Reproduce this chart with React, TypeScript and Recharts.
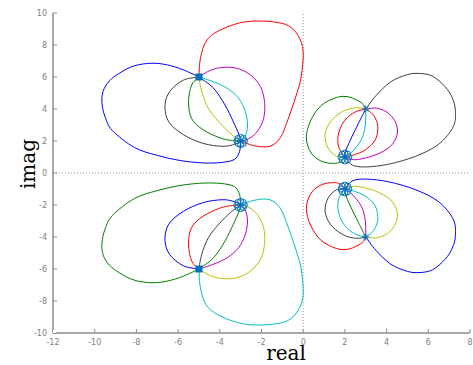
import React from 'react';
import { ComposedChart, Line, XAxis, YAxis, ReferenceLine } from 'recharts';

type P = [number, number];

const xTicks = [-12, -10, -8, -6, -4, -2, 0, 2, 4, 6, 8];
const yTicks = [-10, -8, -6, -4, -2, 0, 2, 4, 6, 8, 10];

// ---- upper-left cluster (A = -5+6i, B = -3+2i)
const ulBlueOuter: P[] = [[-5, 6], [-5.75, 6.45], [-6.5, 6.75], [-7.25, 6.86], [-8.1, 6.7], [-8.8, 6.25], [-9.3, 5.75], [-9.6, 5.1], [-9.65, 4.35], [-9.5, 3.5], [-9.15, 2.65], [-8.1, 1.6], [-7.0, 1.1], [-5.9, 0.78], [-4.8, 0.63], [-3.9, 0.66], [-3.3, 0.85], [-3.05, 1.35], [-3, 2]];
const ulBlack: P[] = [[-5, 6], [-5.75, 5.8], [-6.4, 5.1], [-6.63, 4.2], [-6.45, 3.2], [-5.75, 2.4], [-4.8, 1.85], [-3.85, 1.67], [-3.28, 1.8], [-3, 2]];
const ulGreen: P[] = [[-5, 6], [-5.35, 5.5], [-5.5, 4.45], [-5.35, 3.4], [-4.8, 2.7], [-4.0, 2.2], [-3.4, 2.03], [-3, 2]];
const ulYellow: P[] = [[-5, 6], [-4.87, 5.1], [-4.55, 4.05], [-4.05, 3.2], [-3.5, 2.48], [-3, 2]];
const ulBlueInner: P[] = [[-5, 6], [-4.3, 5.3], [-3.75, 4.25], [-3.35, 3.2], [-3.08, 2.4], [-3, 2]];
const ulCyan: P[] = [[-5, 6], [-4.3, 5.7], [-3.65, 5.3], [-3.1, 4.68], [-2.78, 3.85], [-2.67, 3.0], [-2.78, 2.3], [-3, 2]];
const ulMagenta: P[] = [[-5, 6], [-4.45, 6.42], [-3.85, 6.6], [-3.2, 6.55], [-2.55, 6.15], [-2.05, 5.4], [-1.85, 4.4], [-1.9, 3.4], [-2.2, 2.6], [-2.6, 2.15], [-3, 2]];
const ulRed: P[] = [[-5, 6], [-4.95, 7.0], [-4.75, 8.0], [-4.4, 8.6], [-3.7, 9.1], [-2.9, 9.42], [-2.1, 9.5], [-1.3, 9.42], [-0.7, 9.2], [-0.25, 8.6], [0.0, 7.6], [-0.1, 6.0], [-0.3, 5.0], [-0.55, 4.0], [-0.8, 3.1], [-1.05, 2.3], [-1.4, 1.8], [-1.8, 1.63], [-2.4, 1.72], [-3, 2]];

// ---- lower-left cluster (A = -5-6i, B = -3-2i)
const llGreenOuter: P[] = [[-5, -6], [-5.75, -6.45], [-6.5, -6.75], [-7.25, -6.86], [-8.1, -6.7], [-8.8, -6.25], [-9.3, -5.75], [-9.6, -5.1], [-9.65, -4.35], [-9.5, -3.5], [-9.15, -2.65], [-8.1, -1.6], [-7.0, -1.1], [-5.9, -0.78], [-4.8, -0.63], [-3.9, -0.66], [-3.3, -0.85], [-3.05, -1.35], [-3, -2]];
const llBlue: P[] = [[-5, -6], [-5.75, -5.8], [-6.4, -5.1], [-6.63, -4.2], [-6.45, -3.2], [-5.75, -2.4], [-4.8, -1.85], [-3.85, -1.67], [-3.28, -1.8], [-3, -2]];
const llRed: P[] = [[-5, -6], [-5.35, -5.5], [-5.5, -4.45], [-5.35, -3.4], [-4.8, -2.7], [-4.0, -2.2], [-3.4, -2.03], [-3, -2]];
const llBlack: P[] = [[-5, -6], [-4.87, -5.1], [-4.55, -4.05], [-4.05, -3.2], [-3.5, -2.48], [-3, -2]];
const llGreenInner: P[] = [[-5, -6], [-4.3, -5.3], [-3.75, -4.25], [-3.35, -3.2], [-3.08, -2.4], [-3, -2]];
const llMagenta: P[] = [[-5, -6], [-4.3, -5.7], [-3.65, -5.3], [-3.1, -4.68], [-2.78, -3.85], [-2.67, -3.0], [-2.78, -2.3], [-3, -2]];
const llYellow: P[] = [[-5, -6], [-4.45, -6.42], [-3.85, -6.6], [-3.2, -6.55], [-2.55, -6.15], [-2.05, -5.4], [-1.85, -4.4], [-1.9, -3.4], [-2.2, -2.6], [-2.6, -2.15], [-3, -2]];
const llCyan: P[] = [[-5, -6], [-4.95, -7.0], [-4.75, -8.0], [-4.4, -8.6], [-3.7, -9.1], [-2.9, -9.42], [-2.1, -9.5], [-1.3, -9.42], [-0.7, -9.2], [-0.25, -8.6], [0.0, -7.6], [-0.1, -6.0], [-0.3, -5.0], [-0.55, -4.0], [-0.8, -3.1], [-1.05, -2.3], [-1.4, -1.8], [-1.8, -1.63], [-2.4, -1.72], [-3, -2]];

// ---- upper-right cluster (A = 3+4i, B = 2+1i)
const urGreen: P[] = [[3, 4], [2.8, 4.38], [2.2, 4.75], [1.6, 4.72], [0.85, 4.2], [0.35, 3.25], [0.15, 2.2], [0.38, 1.25], [0.9, 0.72], [1.5, 0.6], [1.8, 0.72], [2, 1]];
const urYellow: P[] = [[3, 4], [2.5, 4.08], [1.87, 3.83], [1.3, 3.2], [1.05, 2.38], [1.2, 1.55], [1.6, 1.05], [2, 1]];
const urRedLeft: P[] = [[3, 4], [2.5, 3.82], [2.0, 3.3], [1.7, 2.5], [1.68, 1.75], [1.85, 1.25], [2, 1]];
const urBlue: P[] = [[3, 4], [2.65, 3.1], [2.26, 2.06], [2.03, 1.35], [2, 1]];
const urCyan: P[] = [[3, 4], [2.98, 3.0], [2.82, 2.17], [2.5, 1.55], [2.18, 1.13], [2, 1]];
const urRedRight: P[] = [[3, 4], [3.37, 3.62], [3.58, 2.9], [3.45, 2.05], [2.97, 1.44], [2.42, 1.13], [2, 1]];
const urMagenta: P[] = [[3, 4], [3.55, 4.05], [4.1, 3.72], [4.45, 3.1], [4.5, 2.38], [4.17, 1.65], [3.45, 1.12], [2.65, 0.85], [2.25, 0.87], [2, 1]];
const urBlack: P[] = [[3, 4], [3.5, 4.85], [4.2, 5.7], [5.0, 6.15], [5.6, 6.22], [6.2, 6.05], [6.8, 5.4], [7.15, 4.7], [7.3, 3.9], [7.2, 2.9], [6.5, 1.8], [5.4, 1.05], [4.1, 0.55], [3.0, 0.38], [2.35, 0.5], [2, 1]];

// ---- lower-right cluster (A = 3-4i, B = 2-1i)
const lrRed: P[] = [[3, -4], [2.8, -4.38], [2.2, -4.75], [1.6, -4.72], [0.85, -4.2], [0.35, -3.25], [0.15, -2.2], [0.38, -1.25], [0.9, -0.72], [1.5, -0.6], [1.8, -0.72], [2, -1]];
const lrBlack: P[] = [[3, -4], [2.5, -4.08], [1.87, -3.83], [1.3, -3.2], [1.05, -2.38], [1.2, -1.55], [1.6, -1.05], [2, -1]];
const lrCyanLeft: P[] = [[3, -4], [2.5, -3.82], [2.0, -3.3], [1.7, -2.5], [1.68, -1.75], [1.85, -1.25], [2, -1]];
const lrGreen: P[] = [[3, -4], [2.65, -3.1], [2.26, -2.06], [2.03, -1.35], [2, -1]];
const lrMagenta: P[] = [[3, -4], [2.98, -3.0], [2.82, -2.17], [2.5, -1.55], [2.18, -1.13], [2, -1]];
const lrCyanRight: P[] = [[3, -4], [3.37, -3.62], [3.58, -2.9], [3.45, -2.05], [2.97, -1.44], [2.42, -1.13], [2, -1]];
const lrYellow: P[] = [[3, -4], [3.55, -4.05], [4.1, -3.72], [4.45, -3.1], [4.5, -2.38], [4.17, -1.65], [3.45, -1.12], [2.65, -0.85], [2.25, -0.87], [2, -1]];
const lrBlue: P[] = [[3, -4], [3.5, -4.85], [4.2, -5.7], [5.0, -6.15], [5.6, -6.22], [6.2, -6.05], [6.8, -5.4], [7.15, -4.7], [7.3, -3.9], [7.2, -2.9], [6.5, -1.8], [5.4, -1.05], [4.1, -0.55], [3.0, -0.38], [2.35, -0.5], [2, -1]];

// ---- markers
const ulCircles: P[] = [[-2.82, 2], [-2.87, 2.16], [-3, 2.23], [-3.13, 2.16], [-3.18, 2], [-3.13, 1.84], [-3, 1.77], [-2.87, 1.84]];
const llCircles: P[] = [[-2.82, -2], [-2.87, -2.16], [-3, -2.23], [-3.13, -2.16], [-3.18, -2], [-3.13, -1.84], [-3, -1.77], [-2.87, -1.84]];
const urCircles: P[] = [[2.19, 1], [2.13, 1.18], [2, 1.25], [1.87, 1.18], [1.81, 1], [1.87, 0.82], [2, 0.75], [2.13, 0.82]];
const lrCircles: P[] = [[2.19, -1], [2.13, -1.18], [2, -1.25], [1.87, -1.18], [1.81, -1], [1.87, -0.82], [2, -0.75], [2.13, -0.82]];
const squares: P[] = [[-5, 6], [-5, -6]];
const stars: P[] = [[3, 4], [3, -4]];

const BLUE = '#0000ff';
const GREEN = '#008000';
const RED = '#ff0000';
const CYAN = '#00bfbf';
const MAGENTA = '#bf00bf';
const YELLOW = '#bfbf00';
const BLACK = '#404040';
const MARK = '#0072bd';
const AXIS = '#8c8c8c';

const curves: { data: P[]; color: string }[] = [
  { data: ulBlueOuter, color: BLUE }, { data: ulBlack, color: BLACK }, { data: ulGreen, color: GREEN },
  { data: ulYellow, color: YELLOW }, { data: ulBlueInner, color: BLUE }, { data: ulCyan, color: CYAN },
  { data: ulMagenta, color: MAGENTA }, { data: ulRed, color: RED },
  { data: llGreenOuter, color: GREEN }, { data: llBlue, color: BLUE }, { data: llRed, color: RED },
  { data: llBlack, color: BLACK }, { data: llGreenInner, color: GREEN }, { data: llMagenta, color: MAGENTA },
  { data: llYellow, color: YELLOW }, { data: llCyan, color: CYAN },
  { data: urGreen, color: GREEN }, { data: urYellow, color: YELLOW }, { data: urRedLeft, color: RED },
  { data: urBlue, color: BLUE }, { data: urCyan, color: CYAN }, { data: urRedRight, color: RED },
  { data: urMagenta, color: MAGENTA }, { data: urBlack, color: BLACK },
  { data: lrRed, color: RED }, { data: lrBlack, color: BLACK }, { data: lrCyanLeft, color: CYAN },
  { data: lrGreen, color: GREEN }, { data: lrMagenta, color: MAGENTA }, { data: lrCyanRight, color: CYAN },
  { data: lrYellow, color: YELLOW }, { data: lrBlue, color: BLUE },
];

const toRows = (d: P[]) => d.map(([x, y]) => ({ x, y }));

// smooth curve through every point (uniform Catmull-Rom)
const catmull = (context: any) => {
  let pts: number[][] = [];
  return {
    areaStart() {},
    areaEnd() {},
    lineStart() { pts = []; },
    point(x: number, y: number) { pts.push([+x, +y]); },
    lineEnd() {
      const n = pts.length;
      if (!n) return;
      context.moveTo(pts[0][0], pts[0][1]);
      for (let i = 0; i < n - 1; i++) {
        const p0 = pts[Math.max(i - 1, 0)];
        const p1 = pts[i];
        const p2 = pts[i + 1];
        const p3 = pts[Math.min(i + 2, n - 1)];
        context.bezierCurveTo(
          p1[0] + (p2[0] - p0[0]) / 6, p1[1] + (p2[1] - p0[1]) / 6,
          p2[0] - (p3[0] - p1[0]) / 6, p2[1] - (p3[1] - p1[1]) / 6,
          p2[0], p2[1]
        );
      }
    },
  };
};

const circleDot = (props: any) => {
  const { cx, cy, index } = props;
  return <circle key={`c${index}-${cx}-${cy}`} cx={cx} cy={cy} r={3} fill="none" stroke={MARK} strokeWidth={1} />;
};
const squareDot = (props: any) => {
  const { cx, cy, index } = props;
  return <rect key={`s${index}-${cx}-${cy}`} x={cx - 3} y={cy - 3} width={6} height={6} fill={MARK} stroke={MARK} strokeWidth={1} />;
};
const starDot = (props: any) => {
  const { cx, cy, index } = props;
  const r = 3.5;
  const d = r * 0.72;
  return (
    <g key={`a${index}-${cx}-${cy}`} stroke={MARK} strokeWidth={1}>
      <line x1={cx - r} y1={cy} x2={cx + r} y2={cy} />
      <line x1={cx} y1={cy - r} x2={cx} y2={cy + r} />
      <line x1={cx - d} y1={cy - d} x2={cx + d} y2={cy + d} />
      <line x1={cx - d} y1={cy + d} x2={cx + d} y2={cy - d} />
    </g>
  );
};

const tickStyle = { fill: '#808080', fontSize: 8, fontFamily: 'DejaVu Sans' };

export default function App() {
  return (
    <div style={{ position: 'absolute', left: 0, top: 0, background: '#fff' }}>
      <ComposedChart width={473} height={365} margin={{ top: 13, right: 3, bottom: 0, left: 0 }}>
        <XAxis
          xAxisId={0}
          type="number"
          dataKey="x"
          domain={[-12, 8]}
          ticks={xTicks}
          interval={0}
          allowDataOverflow
          height={32}
          tickSize={-4}
          tickMargin={10}
          axisLine={{ stroke: AXIS, strokeWidth: 1.5 }}
          tickLine={{ stroke: AXIS }}
          tick={tickStyle}
          label={{
            content: () => (
              <text x={286} y={360} textAnchor="middle" fontFamily="DejaVu Serif" fontSize={20} fill="#000">real</text>
            ),
          }}
        />
        <XAxis
          xAxisId="t"
          orientation="top"
          type="number"
          dataKey="x"
          domain={[-12, 8]}
          ticks={xTicks}
          interval={0}
          allowDataOverflow
          height={0}
          tickSize={-4}
          axisLine={{ stroke: AXIS, strokeWidth: 1.2 }}
          tickLine={{ stroke: AXIS }}
          tick={false}
        />
        <YAxis
          yAxisId={0}
          type="number"
          dataKey="y"
          domain={[-10, 10]}
          ticks={yTicks}
          interval={0}
          allowDataOverflow
          width={53}
          tickSize={-4}
          tickMargin={10}
          axisLine={{ stroke: AXIS, strokeWidth: 1.5 }}
          tickLine={{ stroke: AXIS }}
          tick={tickStyle}
          label={{
            content: () => (
              <text x={35} y={164} transform="rotate(-90 35 164)" textAnchor="middle" fontFamily="DejaVu Serif" fontSize={20} fill="#000">imag</text>
            ),
          }}
        />
        <YAxis
          yAxisId="r"
          orientation="right"
          type="number"
          dataKey="y"
          domain={[-10, 10]}
          ticks={yTicks}
          interval={0}
          allowDataOverflow
          width={0}
          tickSize={-4}
          axisLine={{ stroke: AXIS, strokeWidth: 1.2 }}
          tickLine={{ stroke: AXIS }}
          tick={false}
        />
        <ReferenceLine x={0} stroke="#9a9a9a" strokeDasharray="1 2" />
        <ReferenceLine y={0} stroke="#9a9a9a" strokeDasharray="1 2" />
        <Line
          xAxisId="t"
          yAxisId="r"
          data={[{ x: -12, y: -10 }]}
          dataKey="y"
          stroke="none"
          dot={false}
          isAnimationActive={false}
        />
        {curves.map((c, i) => (
          <Line
            key={`curve${i}`}
            data={toRows(c.data)}
            dataKey="y"
            type={catmull as any}
            stroke={c.color}
            strokeWidth={1}
            dot={false}
            activeDot={false}
            isAnimationActive={false}
          />
        ))}
        {[ulCircles, llCircles, urCircles, lrCircles].map((d, i) => (
          <Line key={`circ${i}`} data={toRows(d)} dataKey="y" stroke="none" dot={circleDot} activeDot={false} isAnimationActive={false} />
        ))}
        <Line data={toRows(squares)} dataKey="y" stroke="none" dot={squareDot} activeDot={false} isAnimationActive={false} />
        <Line data={toRows(stars)} dataKey="y" stroke="none" dot={starDot} activeDot={false} isAnimationActive={false} />
      </ComposedChart>
    </div>
  );
}
